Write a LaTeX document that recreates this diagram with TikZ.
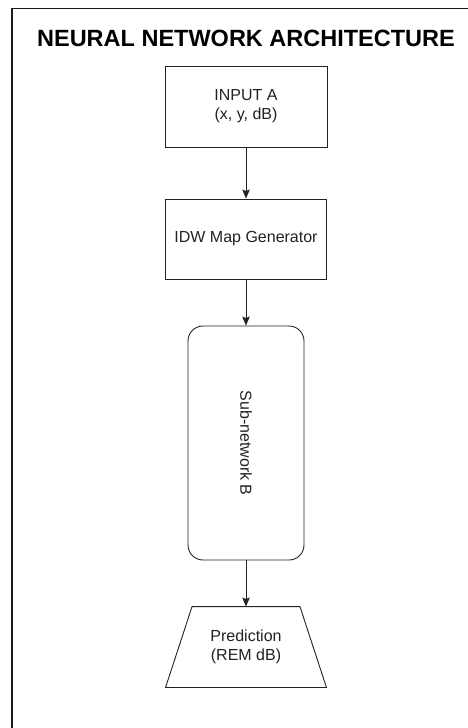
\documentclass[tikz,border=0pt]{standalone}
\usepackage{fontspec}
\setmainfont{Liberation Sans}
\usetikzlibrary{arrows.meta,calc}
\definecolor{ink}{HTML}{222222}
\tikzset{
  x=1pt, y=1pt,
  blockbox/.style={draw=ink, line width=0.9pt, text=ink, align=center,
    font=\fontsize{16}{19}\selectfont, inner sep=0pt},
  flowarrow/.style={draw=ink, line width=0.9pt,
    -{Stealth[length=9pt,width=7.5pt,inset=1.5pt]}},
}
\begin{document}
\begin{tikzpicture}
\useasboundingbox (0,0) rectangle (468,-728);
\fill[white] (0,0) rectangle (468,-728);

% outer frame (continues past the right and bottom edges)
\draw[black!90, line width=1.6pt] (12,-728) -- (12,-8.5) -- (468,-8.5);

% title
\node[text=black, font=\fontsize{23.5}{28}\selectfont\bfseries] (title) at (246,-38) {NEURAL NETWORK ARCHITECTURE};

% blocks
\node[blockbox, minimum width=162, minimum height=81] (inA) at (246,-106.5) {INPUT A\\(x, y, dB)};
\node[blockbox, minimum width=161, minimum height=80] (idw) at (246,-239) {IDW Map Generator};
\node[blockbox, rounded corners=15pt, minimum width=116, minimum height=234] (sub) at (246,-443)
  {\rotatebox{-90}{Sub-network B}};
\node[blockbox, draw=none, minimum width=160, minimum height=80] (pred) at (246,-647) {Prediction\\(REM dB)};
\draw[ink, line width=0.9pt, line join=miter]
  (pred.south west) -- (pred.south east) -- ($(pred.north east)+(-26.5,0)$)
  -- ($(pred.north west)+(26.5,0)$) -- cycle;

% connectors
\draw[flowarrow] (inA.south) -- (idw.north);
\draw[flowarrow] (idw.south) -- (sub.north);
\draw[flowarrow] (sub.south) -- (pred.north);
\end{tikzpicture}
\end{document}
